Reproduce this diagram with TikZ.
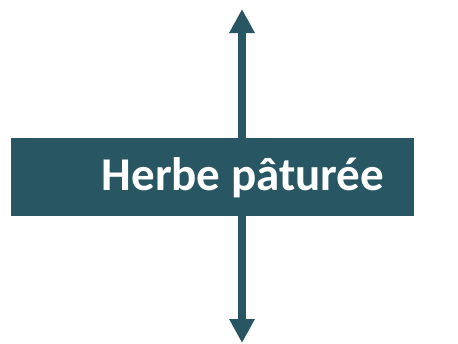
\documentclass[tikz,border=0pt]{standalone}
\usepackage{fontspec}
\setmainfont{Carlito}
\usetikzlibrary{arrows.meta}
\definecolor{teal1}{RGB}{40,87,99}
\begin{document}
\begin{tikzpicture}[x=1pt,y=-1pt,
  boxstyle/.style={fill=teal1,draw=none,inner sep=0pt},
  arr/.style={draw=teal1,line width=8pt,-{Triangle[length=24pt,width=24pt]}}]
\useasboundingbox (0,0) rectangle (458,343);
\coordinate (c) at (242,177);
\coordinate (top) at (242,9);
\coordinate (bot) at (242,343);
\draw[arr] (c) -- (top);
\draw[arr] (c) -- (bot);
\node[boxstyle,minimum width=403pt,minimum height=78pt] (box) at (212.5,177) {};
\node[text=white,font=\bfseries\fontsize{47}{54}\selectfont,inner sep=0pt,anchor=base] (lbl) at (243,190) {Herbe pâturée};
\end{tikzpicture}
\end{document}
